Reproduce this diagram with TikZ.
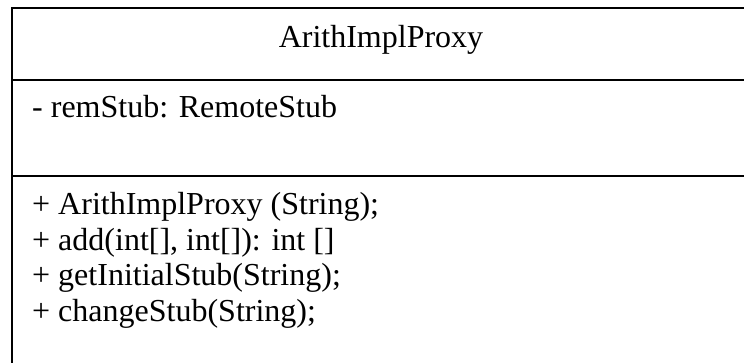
\documentclass[tikz,border=0pt]{standalone}
\usepackage{fontspec}
\setmainfont{Liberation Serif}
\begin{document}
\begin{tikzpicture}[x=1pt,y=1pt,
  umltext/.style={anchor=base west, inner sep=0pt, font=\fontsize{32}{35}\selectfont},
  umltitle/.style={anchor=base, inner sep=0pt, font=\fontsize{32}{35}\selectfont},
  umlline/.style={line width=1.8pt, black}]
  \useasboundingbox (0,0) rectangle (744,-363);
  \clip (0,0) rectangle (744,-363);
  % class box, running past the right and bottom edges
  \draw[umlline] (12,-8) rectangle (752,-375);
  \draw[umlline] (12,-80) -- (752,-80);
  \draw[umlline] (12,-176) -- (752,-176);
  % class name
  \node[umltitle] (name) at (381,-48) {ArithImplProxy};
  % attributes
  \node[umltext] (attr) at (32,-118) {- remStub: RemoteStub};
  % operations
  \node[umltext] (op1) at (32,-215) {+ ArithImplProxy (String);};
  \node[umltext] (op2) at (32,-251) {+ add(int[], int[]): int []};
  \node[umltext] (op3) at (32,-286) {+ getInitialStub(String);};
  \node[umltext] (op4) at (32,-321) {+ changeStub(String);};
\end{tikzpicture}
\end{document}
